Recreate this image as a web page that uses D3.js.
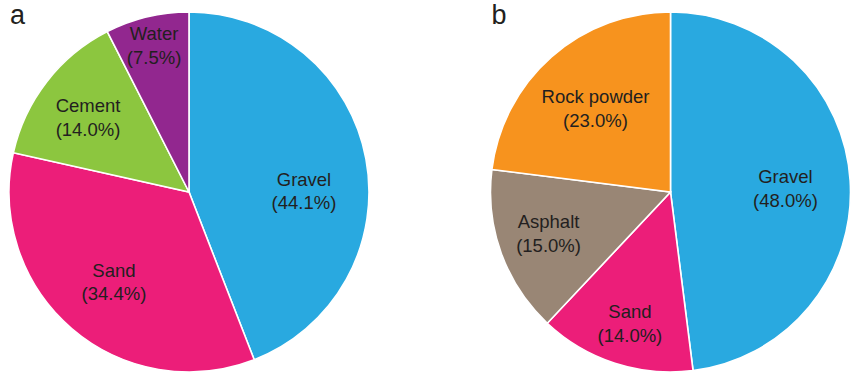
<!DOCTYPE html>
<html>
<head>
<meta charset="utf-8">
<script src="https://cdn.jsdelivr.net/npm/d3@7"></script>
<style>
  body { margin: 0; background: #fff; }
  text { font-family: 'Liberation Sans', Arial, sans-serif; fill: #231f20; }
</style>
</head>
<body>
<div id="app"></div>
<script>
// Panel a: concrete mix
const catsA = ['Gravel', 'Sand', 'Cement', 'Water']
const valsA = [44.1, 34.4, 14.0, 7.5]
// Panel b: asphalt mix
const catsB = ['Gravel', 'Sand', 'Asphalt', 'Rock powder']
const valsB = [48.0, 14.0, 15.0, 23.0]

const colors = {
  Gravel: '#29a9e0',
  Sand: '#ec1e79',
  Cement: '#8cc63f',
  Water: '#92278f',
  Asphalt: '#998675',
  'Rock powder': '#f7931e'
}

// label placement: [share of radius along the centroid ray, vertical nudge px]
const labelPos = {
  a: [[0.65, 19], [0.64, 1], [0.71, 2], [0.83, -3]],
  b: [[0.64, 2], [0.73, 5], [0.72, -4], [0.63, 0]]
}

const W = 856, H = 379, R = 180

const svg = d3.select('#app').append('svg')
  .attr('width', W)
  .attr('height', H)

function drawPie(tag, cats, vals, cx, cy) {
  const data = cats.map((c, i) => ({ name: c, value: vals[i] }))
  const pie = d3.pie().value(d => d.value).sort(null)
  const arc = d3.arc().innerRadius(0).outerRadius(R)
  const g = svg.append('g').attr('transform', `translate(${cx},${cy})`)

  const arcs = pie(data)
  g.selectAll('path')
    .data(arcs)
    .join('path')
    .attr('d', arc)
    .attr('fill', d => colors[d.data.name])
    .attr('stroke', '#fff')
    .attr('stroke-width', 1.6)

  const lbl = g.selectAll('.lbl')
    .data(arcs)
    .join('text')
    .attr('class', 'lbl')
    .attr('text-anchor', 'middle')
    .attr('font-size', 18.5)
    .attr('transform', (d, i) => {
      const [k, nudge] = labelPos[tag][i]
      const r = k * R
      const [x, y] = d3.arc().innerRadius(r).outerRadius(r).centroid(d)
      return `translate(${x},${y + nudge})`
    })
  lbl.append('tspan').attr('x', 0).attr('dy', '-0.2em').text(d => d.data.name)
  lbl.append('tspan').attr('x', 0).attr('dy', '1.28em')
    .text(d => `(${d.data.value.toFixed(1)}%)`)

  svg.append('text')
    .attr('x', cx - 179)
    .attr('y', 24)
    .attr('font-size', 27)
    .text(tag)
}

drawPie('a', catsA, valsA, 189, 192)
drawPie('b', catsB, valsB, 670.5, 192)
</script>
</body>
</html>
